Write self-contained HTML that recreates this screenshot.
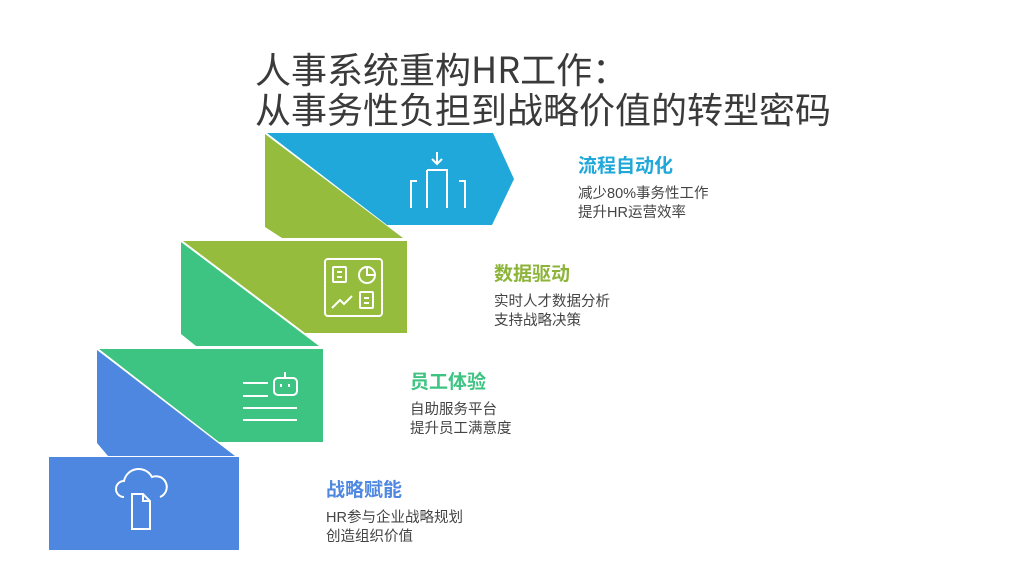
<!DOCTYPE html>
<html><head><meta charset="utf-8"><style>
body{margin:0;width:1024px;height:576px;background:#fff;position:relative;overflow:hidden;font-family:"Liberation Sans","Noto Sans CJK SC",sans-serif}
.t{position:absolute;left:255px;top:52px;font-size:36px;line-height:40px;color:#3a3a3a;white-space:nowrap;font-family:"Noto Sans CJK SC",sans-serif}
.h{position:absolute;font-size:19px;font-weight:bold;white-space:nowrap}
.b{position:absolute;font-size:14.5px;line-height:19px;color:#444;white-space:nowrap}
</style></head><body>
<div class="t" style="top:48px">人事系统重构HR工作：<br>从事务性负担到战略价值的转型密码</div>
<svg width="1024" height="576" style="position:absolute;left:0;top:0">
<polygon points="265,134 403,238 282,238 265,227" fill="#95bc3c"/>
<polygon points="267,133 493,133 514,179 492,225 387,225" fill="#1fa8d9"/>
<polygon points="181,242 319,346 196,346 181,334" fill="#3dc482"/>
<polygon points="183,241 407,241 407,333 305,333" fill="#95bc3c"/>
<polygon points="97,350 235,456 108,456 97,443" fill="#4e87e0"/>
<polygon points="99,349 323,349 323,442 219,442" fill="#3dc482"/>
<rect x="49" y="457" width="190" height="93" fill="#4e87e0"/>
<g fill="none" stroke="#fff" stroke-width="2">
<path d="M437 152v12M432 159l5 5 5-5"/>
<path d="M427 170v38M427 170h20v38M411 208v-27h6M465 208v-27h-6"/>
<rect x="325" y="259" width="57" height="57" rx="3"/>
<rect x="333" y="267" width="13" height="15" rx="1"/><path d="M337 272h5M337 277h5"/>
<circle cx="367" cy="275" r="8"/><path d="M367 267v8h8"/>
<path d="M332 308l8-8 4 4 8-8"/>
<rect x="360" y="292" width="13" height="16" rx="1"/><path d="M364 298h5M364 303h5"/>
<rect x="274" y="378" width="23" height="17" rx="4"/><path d="M285 378v-6M281 384v3M289 384v3"/>
<path d="M243 383h25M243 396h25M243 408h54M243 420h54"/>
<path d="M124 497a8 8 0 0 1 0-16a15 15 0 0 1 28-4a10 10 0 0 1 8 20"/>
<path d="M132 494h11l7 7v28h-18z"/><path d="M143 494v7h7"/>
</g>
</svg>
<div class="h" style="left:578px;top:151px;color:#1fa8d9">流程自动化</div>
<div class="b" style="left:578px;top:185px">减少80%事务性工作<br>提升HR运营效率</div>
<div class="h" style="left:494px;top:259px;color:#8db43a">数据驱动</div>
<div class="b" style="left:494px;top:293px">实时人才数据分析<br>支持战略决策</div>
<div class="h" style="left:410px;top:367px;color:#3dc482">员工体验</div>
<div class="b" style="left:410px;top:401px">自助服务平台<br>提升员工满意度</div>
<div class="h" style="left:326px;top:475px;color:#4e87e0">战略赋能</div>
<div class="b" style="left:326px;top:509px">HR参与企业战略规划<br>创造组织价值</div>
</body></html>
